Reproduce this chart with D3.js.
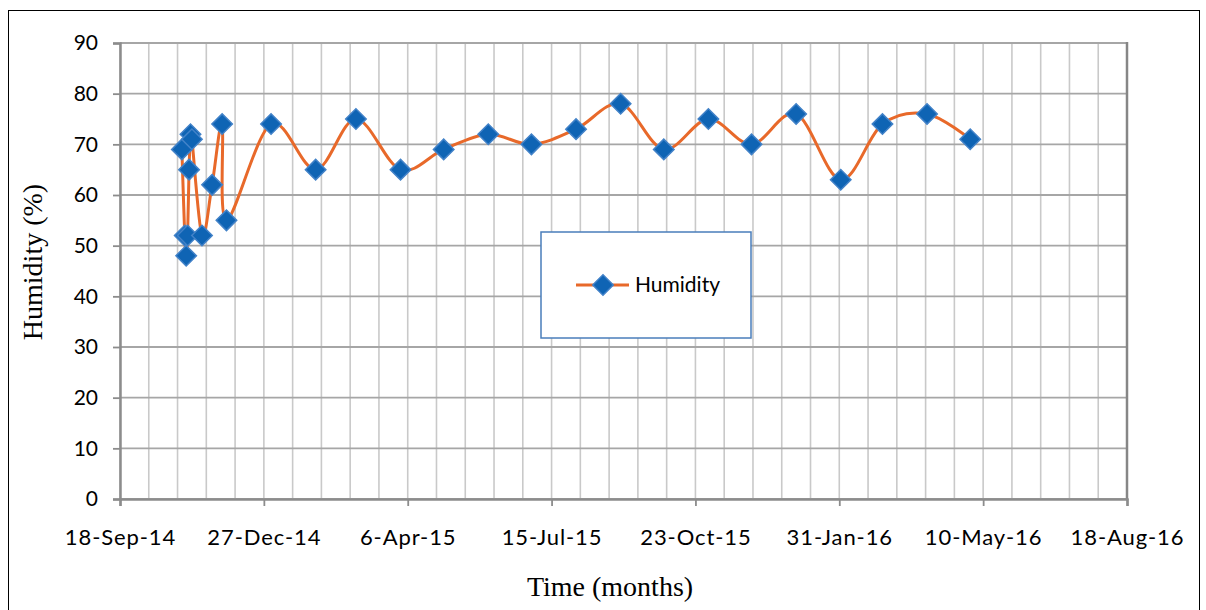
<!DOCTYPE html>
<html><head><meta charset="utf-8">
<script src="https://cdn.jsdelivr.net/npm/d3@7"></script>
<style>html,body{margin:0;padding:0;background:#fff}svg{display:block}</style>
</head><body>
<svg id="chart" width="1206" height="610"></svg>
<script>
// ---- data ----
const dates = [
  "2014-10-31","2014-11-02","2014-11-03","2014-11-04","2014-11-05","2014-11-06","2014-11-07",
  "2014-11-14","2014-11-21","2014-11-28","2014-12-01",
  "2015-01-01","2015-02-01","2015-03-01","2015-04-01","2015-05-01","2015-06-01","2015-07-01",
  "2015-08-01","2015-09-01","2015-10-01","2015-11-01","2015-12-01","2016-01-01","2016-02-01",
  "2016-03-01","2016-04-01","2016-05-01"
];
const humidity = [
  69, 52, 48, 52, 65, 72, 71,
  52, 62, 74, 55,
  74, 65, 75, 65, 69, 72, 70,
  73, 78, 69, 75, 70, 76, 63,
  74, 76, 71
];
const seriesName = "Humidity";
const xDomain = ["2014-09-18", "2016-08-18"];
const xMajorDays = 100, xMinorDays = 20;
const yTicks = [0, 10, 20, 30, 40, 50, 60, 70, 80, 90];
const xTitle = "Time (months)";
const yTitle = "Humidity (%)";

// ---- layout ----
const L = 120, R = 1127, T = 43, B = 499;
const svg = d3.select("#chart");
const parse = d3.utcParse("%Y-%m-%d");
const fmt = d3.utcFormat("%-d-%b-%y");
const x0 = parse(xDomain[0]), x1 = parse(xDomain[1]);
const x = d3.scaleUtc().domain([x0, x1]).range([L, R]);
const y = d3.scaleLinear().domain([0, 90]).range([B, T]);

const majorTicks = [], minorTicks = [];
for (let d = 0; d3.utcDay.offset(x0, d) <= x1; d += xMinorDays) {
  const t = d3.utcDay.offset(x0, d);
  minorTicks.push(t);
  if (d % xMajorDays === 0) majorTicks.push(t);
}

// outer border
svg.append("rect").attr("x", 8.5).attr("y", 10.5).attr("width", 1191).attr("height", 640)
  .attr("fill", "none").attr("stroke", "#000").attr("stroke-width", 1);

// vertical gridlines (minor & major)
svg.append("g").selectAll("line").data(minorTicks).join("line")
  .attr("x1", d => x(d)).attr("x2", d => x(d)).attr("y1", T).attr("y2", B)
  .attr("stroke", "#c9c9c9").attr("stroke-width", 1.6);

// horizontal gridlines
svg.append("g").selectAll("line").data(yTicks).join("line")
  .attr("x1", L).attr("x2", R).attr("y1", d => y(d)).attr("y2", d => y(d))
  .attr("stroke", "#a6a6a6").attr("stroke-width", 1.8);

// right border
svg.append("line").attr("x1", R).attr("x2", R).attr("y1", T - 1).attr("y2", B + 1)
  .attr("stroke", "#868686").attr("stroke-width", 2.5);

// y axis
const yAxis = svg.append("g").attr("transform", `translate(${L},0)`)
  .call(d3.axisLeft(y).tickValues(yTicks).tickSize(7).tickPadding(15).tickFormat(d3.format("d")));
yAxis.select(".domain").attr("stroke", "#8c8c8c").attr("stroke-width", 2.5);
yAxis.selectAll(".tick line").attr("stroke", "#8c8c8c").attr("stroke-width", 1.8);
yAxis.selectAll("text").attr("font-family", "Lato, 'Open Sans', sans-serif").attr("font-size", 21).attr("fill", "#000");

// x axis
const xAxis = svg.append("g").attr("transform", `translate(0,${B})`)
  .call(d3.axisBottom(x).tickValues(majorTicks).tickSize(7).tickPadding(23).tickFormat(fmt));
xAxis.select(".domain").attr("stroke", "#8c8c8c").attr("stroke-width", 2.5);
xAxis.selectAll(".tick line").attr("stroke", "#8c8c8c").attr("stroke-width", 1.8);
xAxis.selectAll("text").attr("font-family", "Lato, 'Open Sans', sans-serif").attr("font-size", 22)
  .attr("letter-spacing", 0.9).attr("fill", "#000");

// axis titles
svg.append("text").attr("x", 610).attr("y", 596).attr("text-anchor", "middle")
  .attr("font-family", "'Liberation Serif', 'Times New Roman', serif").attr("font-size", 28).text(xTitle);
svg.append("text").attr("transform", "translate(42,262) rotate(-90)").attr("text-anchor", "middle")
  .attr("font-family", "'Liberation Serif', 'Times New Roman', serif").attr("font-size", 28).text(yTitle);

// series
const data = dates.map((d, i) => ({ date: parse(d), value: humidity[i] }));
const line = d3.line().x(d => x(d.date)).y(d => y(d.value)).curve(d3.curveCardinal.tension(0));
svg.append("path").datum(data).attr("d", line).attr("fill", "none")
  .attr("stroke", "#e8692a").attr("stroke-width", 3);

const diamond = d3.symbol().type(d3.symbolSquare).size(210);
svg.append("g").selectAll("path").data(data).join("path")
  .attr("d", diamond)
  .attr("transform", d => `translate(${x(d.date)},${y(d.value)}) rotate(45)`)
  .attr("fill", "#0f64b4").attr("stroke", "#4282c8").attr("stroke-width", 1.5);

// legend
const lg = svg.append("g");
lg.append("rect").attr("x", 541).attr("y", 232).attr("width", 210).attr("height", 106)
  .attr("fill", "#fff").attr("stroke", "#4a7ebb").attr("stroke-width", 1.5);
lg.append("line").attr("x1", 576).attr("x2", 629).attr("y1", 285).attr("y2", 285)
  .attr("stroke", "#e8692a").attr("stroke-width", 3);
lg.append("path").attr("d", diamond).attr("transform", "translate(603,285) rotate(45)")
  .attr("fill", "#0f64b4").attr("stroke", "#4282c8").attr("stroke-width", 1.5);
lg.append("text").attr("x", 635).attr("y", 292).attr("font-family", "Lato, 'Open Sans', sans-serif")
  .attr("font-size", 21).text(seriesName);
</script>
</body></html>
